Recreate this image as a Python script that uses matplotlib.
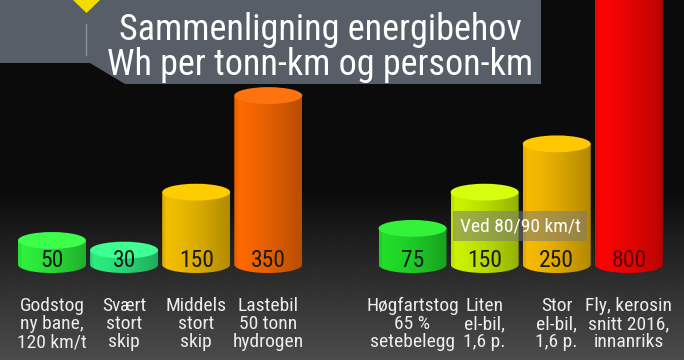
import matplotlib.pyplot as plt
import numpy as np
from matplotlib.patches import Ellipse, PathPatch, Polygon, Rectangle
from matplotlib.path import Path
from matplotlib.colors import to_rgb

NARROW = ['Roboto Condensed', 'Archivo Narrow', 'Liberation Sans', 'DejaVu Sans']

title_lines = ['Sammenligning energibehov', 'Wh per tonn-km og person-km']

# slot 4 is the empty gap between the two groups
positions = [0, 1, 2, 3, 5, 6, 7, 8]
values = [50, 30, 150, 350, 75, 150, 250, 800]
labels = ['Godstog\nny bane,\n120 km/t', 'Svært\nstort\nskip', 'Middels\nstort\nskip',
          'Lastebil\n50 tonn\nhydrogen', 'Høgfartstog\n65 %\nsetebelegg',
          'Liten\nel-bil,\n1,6 p.', 'Stor\nel-bil,\n1,6 p.', 'Fly, kerosin\nsnitt 2016,\ninnanriks']
side_colors = ['#2ef23c', '#2cee80', '#f5c000', '#ff6a00', '#22e02a', '#ccf500', '#f8bc00', '#ff0505']
top_colors = ['#3cff4c', '#3dff92', '#ffcc00', '#ff7210', '#33f23a', '#d6ff10', '#ffc800', '#ff1010']
value_colors = ['#1a1a1a'] * 7 + ['#5a0000']
note_text = 'Ved 80/90 km/t'

BAR_W = 0.943
ELL_H = 34.8


def draw_cylinder(ax, xc, h, side, top):
    left, right = xc - BAR_W / 2, xc + BAR_W / 2
    t = np.linspace(np.pi, 2 * np.pi, 80)
    verts = [(left, h)] + list(zip(xc + BAR_W / 2 * np.cos(t), ELL_H / 2 * np.sin(t))) + [(right, h), (left, h)]
    codes = [Path.MOVETO] + [Path.LINETO] * (len(verts) - 2) + [Path.CLOSEPOLY]
    patch = PathPatch(Path(verts, codes), facecolor='none', edgecolor='none')
    ax.add_patch(patch)
    u = np.linspace(0, 1, 100)
    shade = 1.0 - 0.28 * u ** 1.4
    shade[u < 0.05] *= 0.93
    grad = np.clip(np.array(to_rgb(side))[None, None, :] * shade[None, :, None], 0, 1)
    im = ax.imshow(grad, extent=(left, right, -ELL_H / 2, h), aspect='auto', zorder=2,
                   interpolation='bilinear')
    im.set_clip_path(patch)
    ax.add_patch(Ellipse((xc, h), BAR_W, ELL_H, facecolor=top, edgecolor='none', zorder=3))


fig = plt.figure(figsize=(6.84, 3.6), dpi=100)
fig.patch.set_facecolor('#0b0b0b')

# background gradient
bg = fig.add_axes([0, 0, 1, 1])
rows = np.linspace(0, 1, 360)
lev = np.where(rows < 0.53, 0.045, 0.045 + (rows - 0.53) / 0.47 * 0.25)
bg.imshow(np.repeat(lev[:, None], 2, axis=1), cmap='gray', vmin=0, vmax=1, aspect='auto',
          extent=(0, 1, 1, 0), interpolation='bilinear')
bg.set_xlim(0, 1)
bg.set_ylim(1, 0)
bg.axis('off')

ax = fig.add_axes([0, 0, 1, 1])
ax.patch.set_alpha(0)
for p, v, s, tc, vc in zip(positions, values, side_colors, top_colors, value_colors):
    draw_cylinder(ax, p, v, s, tc)
    ax.text(p, 9, str(v), ha='center', va='center', fontsize=17, color=vc,
            family=NARROW, zorder=4)
for p, lab in zip(positions, labels):
    ax.text(p, -123, lab, ha='center', va='center', fontsize=14, color='#ececec',
            family=NARROW, linespacing=1.0, zorder=4)
ax.set_xlim(-0.721, 8.765)
ax.set_ylim(-197.5, 547.8)
ax.axis('off')

# overlay in pixel coordinates: title panel and note box
ov = fig.add_axes([0, 0, 1, 1])
ov.patch.set_alpha(0)
ov.set_xlim(0, 684)
ov.set_ylim(360, 0)
ov.axis('off')
ov.add_patch(Polygon([(0, 0), (541, 0), (541, 84), (125, 84), (90, 63), (0, 63)],
                     closed=True, facecolor='#585e68', edgecolor='none', zorder=5))
ov.add_patch(Polygon([(73, 0), (100, 0), (86.5, 13)], closed=True, facecolor='#f2dc00',
                     edgecolor='none', zorder=6))
ov.plot([86, 86], [24, 55], color='#8c9098', lw=1, zorder=6)
ov.text(320, 39.5, title_lines[0], ha='center', va='baseline', fontsize=26, color='white',
        family=NARROW, zorder=7)
ov.text(320, 75, title_lines[1], ha='center', va='baseline', fontsize=26, color='white',
        family=NARROW, zorder=7)
ov.add_patch(Rectangle((453, 211), 134, 30, facecolor='#7a7a7a', alpha=0.55,
                       edgecolor='none', zorder=5))
ov.text(520, 226.5, note_text, ha='center', va='center', fontsize=14, color='white',
        family=NARROW, zorder=6)

fig.savefig('out.png', dpi=100)
